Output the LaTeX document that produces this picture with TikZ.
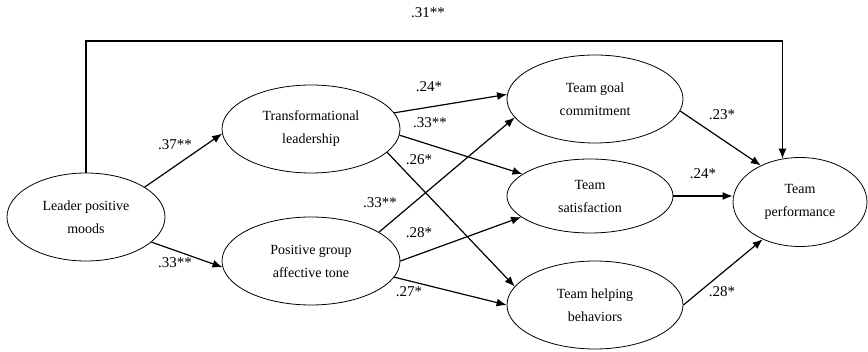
\documentclass[tikz,border=0pt]{standalone}
\usepackage{fontspec}
\setmainfont{Liberation Serif}
\usetikzlibrary{arrows.meta,shapes.geometric}
\begin{document}
\begin{tikzpicture}[x=1pt,y=-1pt,
  var/.style={ellipse,draw,line width=0.8pt,inner sep=0pt,align=center,
    font=\fontsize{14}{23}\selectfont},
  arr/.style={line width=1.2pt,-{Latex[length=10pt,width=8pt]}},
  lab/.style={font=\fontsize{15}{18}\selectfont,inner sep=0pt}]
\useasboundingbox (0,0) rectangle (868,352);
\node[var,minimum width=158pt,minimum height=88pt] (l) at (86,217) {Leader positive\\moods};
\node[var,minimum width=178pt,minimum height=88pt] (tl) at (311,129) {Transformational\\leadership};
\node[var,minimum width=178pt,minimum height=88pt] (pg) at (311,261) {Positive group\\affective tone};
\node[var,minimum width=176pt,minimum height=88pt] (gc) at (595,99) {Team goal\\commitment};
\node[var,minimum width=166pt,minimum height=74pt] (ts) at (590,196) {Team\\satisfaction};
\node[var,minimum width=176pt,minimum height=88pt] (hb) at (595,305) {Team helping\\behaviors};
\node[var,minimum width=134pt,minimum height=89pt] (tp) at (800,202) {Team\\performance};
\coordinate (topline) at (0,41);
\draw[arr] (l.north) -- (l.north |- topline) -| (tp.112);
\draw[arr] (l.27) -- (tl.183);
\draw[arr] (l.-21) -- (pg.184);
\draw[arr] (tl.11) -- (gc.177);
\draw[arr] (tl.-4) -- (ts.162);
\draw[arr] (tl.-17) -- (hb.167);
\draw[arr] (pg.23) -- (gc.193);
\draw[arr] (pg.0) -- (ts.197);
\draw[arr] (pg.-11) -- (hb.180);
\draw[arr] (gc.-8) -- (tp.137);
\draw[arr] (ts.east) -- (tp.west |- ts.east);
\draw[arr] (hb.0) -- (tp.225);
\node[lab] (n31) at (428,13) {.31**};
\node[lab] (n37) at (175,145) {.37**};
\node[lab] (n33a) at (175,263) {.33**};
\node[lab] (n24a) at (429,87) {.24*};
\node[lab] (n33b) at (430,123) {.33**};
\node[lab] (n26) at (419,160) {.26*};
\node[lab] (n33c) at (380,203) {.33**};
\node[lab] (n28a) at (419,233) {.28*};
\node[lab] (n27) at (409,292) {.27*};
\node[lab] (n23) at (722,115) {.23*};
\node[lab] (n24b) at (703,174) {.24*};
\node[lab] (n28b) at (722,292) {.28*};
\end{tikzpicture}
\end{document}
